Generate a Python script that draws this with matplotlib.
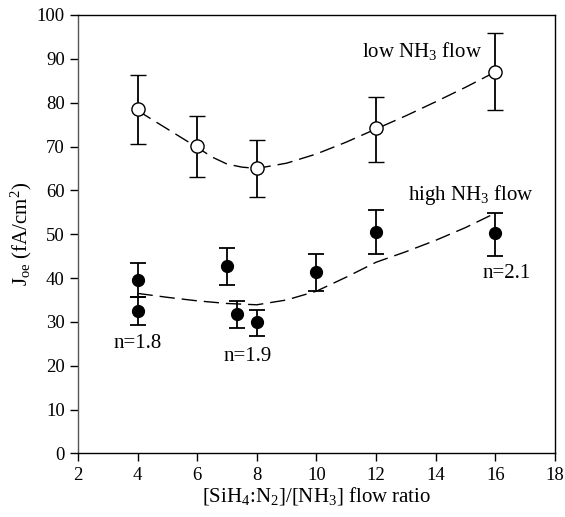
import matplotlib
matplotlib.use("Agg")
import matplotlib.pyplot as plt
import numpy as np

plt.rcParams['font.family'] = ['Liberation Serif', 'DejaVu Serif']
plt.rcParams['mathtext.fontset'] = 'custom'
plt.rcParams['mathtext.rm'] = 'Liberation Serif'
plt.rcParams['mathtext.it'] = 'Liberation Serif'

# low NH3 flow (open circles)
low_x = [4, 6, 8, 12, 16]
low_y = [78.6, 70.2, 65.1, 74.2, 87.0]
low_lo = [70.6, 63.1, 58.5, 66.5, 78.4]
low_hi = [86.3, 77.0, 71.5, 81.3, 95.9]

# high NH3 flow (filled circles)
high_x = [4, 4, 7, 7.35, 8, 10, 12, 16]
high_y = [39.6, 32.4, 42.8, 31.7, 29.9, 41.4, 50.5, 50.2]
high_lo = [35.7, 29.2, 38.5, 28.5, 26.8, 37.1, 45.4, 45.0]
high_hi = [43.5, 35.7, 46.9, 34.8, 32.8, 45.4, 55.5, 54.9]

# dashed trend lines
low_fit_x = [4, 5, 6, 6.5, 7, 7.5, 8, 9, 10, 11, 12, 13, 14, 15, 16]
low_fit_y = [78.2, 74.0, 69.8, 67.6, 66.0, 65.3, 65.0, 66.2, 68.3, 71.0, 74.0, 77.0, 80.2, 83.5, 87.0]
high_fit_x = [4, 5, 6, 7, 8, 9, 10, 11, 12, 13, 14, 15, 16]
high_fit_y = [36.5, 35.6, 34.8, 34.2, 33.9, 35.0, 37.0, 40.2, 43.6, 46.0, 48.6, 51.5, 54.8]

fig = plt.figure(figsize=(5.65, 5.17), dpi=100)
ax = fig.add_axes([0.138, 0.123, 0.844, 0.848])

ax.plot(low_fit_x, low_fit_y, color='black', lw=1.0, dashes=(11, 5))
ax.plot(high_fit_x, high_fit_y, color='black', lw=1.0, dashes=(11, 5))

ax.errorbar(low_x, low_y,
            yerr=[np.subtract(low_y, low_lo), np.subtract(low_hi, low_y)],
            fmt='o', mfc='white', mec='black', ms=9.5, mew=1.0,
            ecolor='black', elinewidth=1.3, capsize=5.5, capthick=1.3, zorder=3)
ax.errorbar(high_x, high_y,
            yerr=[np.subtract(high_y, high_lo), np.subtract(high_hi, high_y)],
            fmt='o', mfc='black', mec='black', ms=8.5,
            ecolor='black', elinewidth=1.3, capsize=5.5, capthick=1.3, zorder=3)

ax.set_xlim(2, 18)
ax.set_ylim(0, 100)
ax.set_xticks(range(2, 19, 2))
ax.set_yticks(range(0, 101, 10))
ax.tick_params(direction='out', length=5.5, width=1, labelsize=13.5, pad=4,
               top=False, right=False)
for s in ax.spines.values():
    s.set_linewidth(1.0)
ax.spines['left'].set_color('#555555')

ax.set_xlabel('[SiH$_4$:N$_2$]/[NH$_3$] flow ratio', fontsize=15, labelpad=1)
ax.set_ylabel('J$_{oe}$ (fA/cm$^2$)', fontsize=15, labelpad=2)

ax.text(15.55, 89.3, 'low NH$_3$ flow', fontsize=15, ha='right', va='bottom')
ax.text(17.3, 56.3, 'high NH$_3$ flow', fontsize=15, ha='right', va='bottom')
ax.text(4.0, 25.0, 'n=1.8', fontsize=15, ha='center', va='center')
ax.text(7.7, 22.2, 'n=1.9', fontsize=15, ha='center', va='center')
ax.text(16.4, 41.0, 'n=2.1', fontsize=15, ha='center', va='center')

fig.savefig('out.png', dpi=100)
